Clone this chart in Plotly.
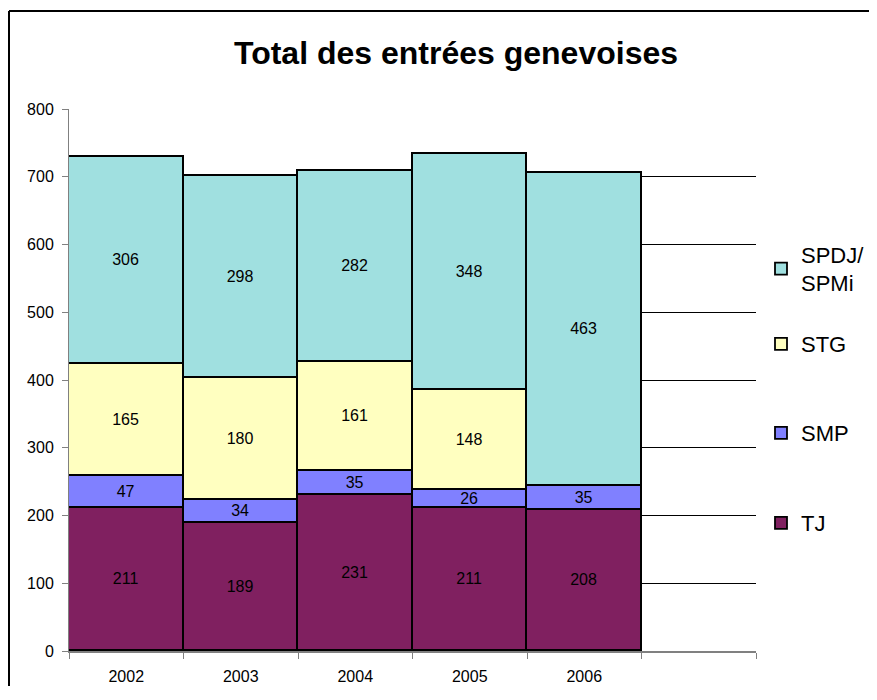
import plotly.graph_objects as go

years = ["2002", "2003", "2004", "2005", "2006"]
slots = years + [" "]
tj = [211, 189, 231, 211, 208]
smp = [47, 34, 35, 26, 35]
stg = [165, 180, 161, 148, 0]
spdj = [306, 298, 282, 348, 463]

FONT = "Liberation Sans, Arial"
# plot area in page pixels: x 69..756, y 109..651 ; page has 8px body margin
OFF = 8
PL, PR, PT, PB = 69, 756, 109, 651
W, H = 877 - 2 * OFF, 678


def py(ypix):
    return (PB - ypix) / (PB - PT)


def px(xpix):
    return (xpix - PL) / (PR - PL)


series = [
    ("TJ", tj, "#802060", "legend", 523),
    ("SMP", smp, "#8080FF", "legend2", 433),
    ("STG", stg, "#FFFFC0", "legend3", 344),
    ("SPDJ/<br>SPMi", spdj, "#A0E0E0", "legend4", 269),
]

fig = go.Figure()
for name, vals, color, leg, _ in series:
    fig.add_trace(go.Bar(
        x=years, y=vals, name=name, legend=leg, showlegend=True,
        marker=dict(color=color, line=dict(color="black", width=1.8)),
        text=[str(v) if v else "" for v in vals],
        textposition="inside", insidetextanchor="middle", textangle=0,
        insidetextfont=dict(color="black", size=16, family=FONT),
        hoverinfo="skip",
    ))

legends = {}
for name, vals, color, leg, ypix in series:
    legends[leg] = dict(x=px(761), y=py(ypix), xanchor="left", yanchor="middle",
                        bgcolor="rgba(0,0,0,0)", visible=True,
                        font=dict(size=22, family=FONT, color="black"))

top = 1 + (PT - 11) / (PB - PT)
left = px(9)

fig.update_layout(
    width=W, height=H,
    margin=dict(l=PL - OFF, r=(W + OFF) - PR, t=PT - OFF, b=(H + OFF) - PB,
                autoexpand=False),
    paper_bgcolor="white", plot_bgcolor="white",
    barmode="stack", bargap=0, showlegend=True,
    font=dict(family=FONT, size=16, color="black"),
    title=dict(text="<b>Total des entrées genevoises</b>",
               x=px(456), xref="paper", xanchor="center",
               y=1 - (53 - OFF) / H, yref="container", yanchor="middle",
               font=dict(size=32, family=FONT, color="black")),
    uniformtext=dict(minsize=16, mode="show"),
    xaxis=dict(type="category", categoryorder="array", categoryarray=slots,
               range=[-0.5, 5.5], tickson="boundaries", ticks="outside", ticklen=6,
               tickcolor="#808080", showline=True, linecolor="#808080", linewidth=1.5,
               showgrid=False, tickfont=dict(size=16), ticklabelstandoff=10),
    yaxis=dict(range=[0, 800], dtick=100, ticks="outside", ticklen=6,
               tickcolor="#808080", showline=True, linecolor="#808080", linewidth=1,
               showgrid=True, gridcolor="black", gridwidth=1, zeroline=False,
               tickfont=dict(size=16), ticklabelstandoff=5),
    shapes=[
        dict(type="line", xref="paper", yref="paper", x0=left, x1=1.3, y0=top, y1=top,
             line=dict(color="black", width=2), layer="below"),
        dict(type="line", xref="paper", yref="paper", x0=left, x1=left, y0=-0.2, y1=top,
             line=dict(color="black", width=2), layer="below"),
    ],
    **legends,
)

fig.write_html("out.html")
